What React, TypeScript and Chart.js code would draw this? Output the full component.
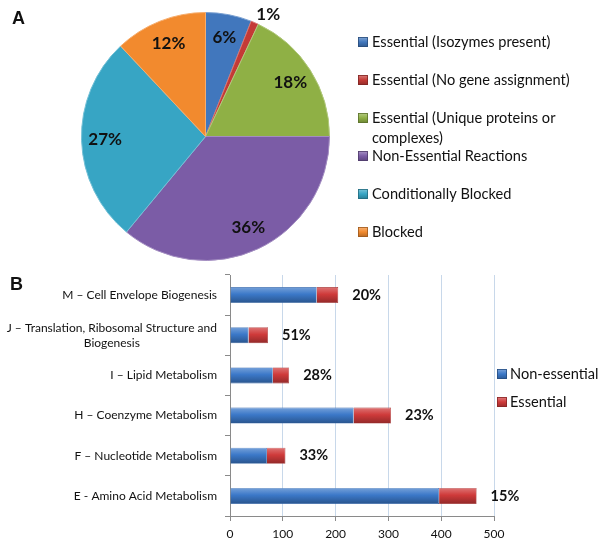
import React, { useEffect, useRef } from 'react';
import { Chart, registerables } from 'chart.js';

Chart.register(...registerables);

// ---------- Panel A data ----------
const pieLegendLines: string[][] = [
  ['Essential (Isozymes present)'],
  ['Essential (No gene assignment)'],
  ['Essential (Unique proteins or', 'complexes)'],
  ['Non-Essential Reactions'],
  ['Conditionally Blocked'],
  ['Blocked'],
];
const pieValues = [6, 1, 18, 36, 27, 12];
const pieColors = ['#4177bd', '#c43a36', '#8fb045', '#7b5ca6', '#37a5c4', '#f28a2e'];

// ---------- Panel B data ----------
const barCategories: string[][] = [
  ['M \u2013 Cell Envelope Biogenesis'],
  ['J \u2013 Translation, Ribosomal Structure and', 'Biogenesis'],
  ['I \u2013 Lipid Metabolism'],
  ['H \u2013 Coenzyme Metabolism'],
  ['F \u2013 Nucleotide Metabolism'],
  ['E - Amino Acid Metabolism'],
];
const nonEssential = [164, 35, 81, 234, 70, 396];
const essential = [41, 37, 31, 71, 35, 71];
const percentLabels = ['20%', '51%', '28%', '23%', '33%', '15%'];
const seriesNames = ['Non-essential', 'Essential'];
const xTicks = [0, 100, 200, 300, 400, 500];

const FONT = 'Lato, "Open Sans", sans-serif';

function shade(hex: string, amt: number) {
  const n = parseInt(hex.slice(1), 16);
  let r = (n >> 16) & 255, g = (n >> 8) & 255, b = n & 255;
  const f = (c: number) => Math.max(0, Math.min(255, Math.round(amt >= 0 ? c + (255 - c) * amt : c * (1 + amt))));
  r = f(r); g = f(g); b = f(b);
  return `rgb(${r},${g},${b})`;
}

function drawSquare(ctx: CanvasRenderingContext2D, x: number, y: number, s: number, color: string) {
  const g = ctx.createLinearGradient(x, y, x, y + s);
  g.addColorStop(0, shade(color, 0.35));
  g.addColorStop(0.5, color);
  g.addColorStop(1, shade(color, -0.25));
  ctx.fillStyle = g;
  ctx.fillRect(x, y, s, s);
  ctx.strokeStyle = shade(color, -0.35);
  ctx.lineWidth = 0.8;
  ctx.strokeRect(x + 0.5, y + 0.5, s - 1, s - 1);
}

export default function App() {
  const pieRef = useRef<HTMLCanvasElement>(null);
  const barRef = useRef<HTMLCanvasElement>(null);

  useEffect(() => {
    Chart.defaults.font.family = FONT;

    const pieLabelPlugin = {
      id: 'pieLabels',
      afterDatasetsDraw(chart: any) {
        const ctx = chart.ctx as CanvasRenderingContext2D;
        const meta = chart.getDatasetMeta(0);
        ctx.save();
        ctx.font = `bold 17px ${FONT}`;
        ctx.fillStyle = '#111';
        meta.data.forEach((arc: any, i: number) => {
          const p = arc.getProps(['x', 'y', 'startAngle', 'endAngle', 'outerRadius'], true);
          const mid = (p.startAngle + p.endAngle) / 2;
          const text = pieValues[i] + '%';
          ctx.textBaseline = 'middle';
          if (pieValues[i] < 3) {
            const r = p.outerRadius + 4;
            ctx.textAlign = 'left';
            ctx.fillText(text, p.x + Math.cos(mid) * r, p.y + Math.sin(mid) * r - 5);
          } else {
            const r = p.outerRadius * 0.81;
            ctx.textAlign = 'center';
            ctx.fillText(text, p.x + Math.cos(mid) * r, p.y + Math.sin(mid) * r);
          }
        });
        ctx.restore();
      },
      afterDraw(chart: any) {
        const ctx = chart.ctx as CanvasRenderingContext2D;
        ctx.save();
        ctx.font = `14.6px ${FONT}`;
        ctx.textBaseline = 'middle';
        ctx.textAlign = 'left';
        pieLegendLines.forEach((lines, i) => {
          const y = 42 + i * 38;
          drawSquare(ctx, 358, y - 5, 10, pieColors[i]);
          ctx.fillStyle = '#111';
          lines.forEach((ln, j) => ctx.fillText(ln, 372, y + j * 20));
        });
        ctx.restore();
      },
    };

    const pieFill = (c: any) => {
      const color = pieColors[c.dataIndex];
      const el = c.element;
      if (!el || color === undefined) return color;
      const p = el.getProps(['x', 'y', 'outerRadius'], true);
      if (!Number.isFinite(p.x) || !Number.isFinite(p.outerRadius) || p.outerRadius <= 0) return color;
      const g = c.chart.ctx.createRadialGradient(p.x, p.y, 0, p.x, p.y, p.outerRadius);
      g.addColorStop(0, color);
      g.addColorStop(0.9, shade(color, -0.08));
      g.addColorStop(0.96, shade(color, 0.12));
      g.addColorStop(1, shade(color, -0.12));
      return g;
    };

    const pie = new Chart(pieRef.current!, {
      type: 'pie',
      data: {
        labels: pieLegendLines.map((l) => l.join(' ')),
        datasets: [
          {
            data: pieValues,
            backgroundColor: pieFill,
            borderColor: pieColors.map((c) => shade(c, 0.3)),
            borderWidth: 1,
            hoverOffset: 0,
          },
        ],
      },
      options: {
        responsive: false,
        animation: false,
        devicePixelRatio: 1,
        layout: { padding: { left: 81, right: 270, top: 12, bottom: 1 } },
        plugins: { legend: { display: false }, tooltip: { enabled: false } },
      },
      plugins: [pieLabelPlugin],
    });

    const barGradient = (color: string) => (c: any) => {
      const chart = c.chart;
      const ys = chart.scales && chart.scales.y;
      if (!ys || c.dataIndex === undefined) return color;
      const yc = ys.getPixelForValue(c.dataIndex);
      if (!Number.isFinite(yc)) return color;
      const g = chart.ctx.createLinearGradient(0, yc - 8, 0, yc + 8);
      g.addColorStop(0, shade(color, 0.3));
      g.addColorStop(0.45, color);
      g.addColorStop(1, shade(color, -0.3));
      return g;
    };

    const barPlugin = {
      id: 'barExtras',
      afterDatasetsDraw(chart: any) {
        const ctx = chart.ctx as CanvasRenderingContext2D;
        const xs = chart.scales.x;
        const ys = chart.scales.y;
        ctx.save();
        ctx.font = `bold 14.5px ${FONT}`;
        ctx.fillStyle = '#111';
        ctx.textAlign = 'left';
        ctx.textBaseline = 'middle';
        percentLabels.forEach((t, i) => {
          const x = xs.getPixelForValue(nonEssential[i] + essential[i]) + 14;
          ctx.fillText(t, x, ys.getPixelForValue(i));
        });
        ctx.restore();
      },
      afterDraw(chart: any) {
        const ctx = chart.ctx as CanvasRenderingContext2D;
        const ys = chart.scales.y;
        ctx.save();
        ctx.font = `12px ${FONT}`;
        ctx.fillStyle = '#111';
        ctx.textAlign = 'center';
        ctx.textBaseline = 'middle';
        const right = ys.right - 13;
        barCategories.forEach((lines, i) => {
          const yc = ys.getPixelForValue(i);
          const w = Math.max(...lines.map((l) => ctx.measureText(l).width));
          const cx = right - w / 2;
          const lh = 15;
          const y0 = yc - ((lines.length - 1) * lh) / 2;
          lines.forEach((l, j) => ctx.fillText(l, cx, y0 + j * lh));
        });
        // legend
        ctx.font = `14.6px ${FONT}`;
        ctx.textAlign = 'left';
        const cols = ['#3b78c8', '#cf3a3a'];
        seriesNames.forEach((n, i) => {
          const y = 112 + i * 28;
          drawSquare(ctx, 497, y - 5, 10, cols[i]);
          ctx.fillStyle = '#111';
          ctx.fillText(n, 510, y);
        });
        ctx.restore();
      },
    };

    const bar = new Chart(barRef.current!, {
      type: 'bar',
      data: {
        labels: barCategories.map((l) => l.join(' ')),
        datasets: [
          {
            label: seriesNames[0],
            data: nonEssential,
            backgroundColor: barGradient('#3b78c8'),
            borderColor: '#2f62a6',
            borderWidth: 0.6,
            barPercentage: 0.4,
            categoryPercentage: 1,
          },
          {
            label: seriesNames[1],
            data: essential,
            backgroundColor: barGradient('#cf3a3a'),
            borderColor: '#9c2a2a',
            borderWidth: 0.6,
            barPercentage: 0.4,
            categoryPercentage: 1,
          },
        ],
      },
      options: {
        indexAxis: 'y',
        responsive: false,
        animation: false,
        devicePixelRatio: 1,
        layout: { padding: { left: 0, right: 106, top: 13, bottom: 0 } },
        plugins: { legend: { display: false }, tooltip: { enabled: false } },
        scales: {
          x: {
            stacked: true,
            min: 0,
            max: 500,
            afterFit: (s: any) => { s.height = 27; },
            afterBuildTicks: (s: any) => { s.ticks = xTicks.map((v) => ({ value: v })); },
            ticks: { font: { size: 12 }, color: '#111', padding: 6 },
            grid: { color: '#c8d8ea', tickColor: '#8a8a8a', tickLength: 5, lineWidth: 1 },
            border: { color: '#8a8a8a' },
          },
          y: {
            stacked: true,
            afterFit: (s: any) => { s.width = 230; },
            ticks: { display: false },
            grid: { drawOnChartArea: false, tickColor: '#8a8a8a', tickLength: 5, offset: true },
            border: { color: '#8a8a8a' },
          },
        },
      },
      plugins: [barPlugin],
    });

    return () => {
      pie.destroy();
      bar.destroy();
    };
  }, []);

  const letter: React.CSSProperties = {
    position: 'absolute',
    fontFamily: '"Liberation Sans", Arial, sans-serif',
    fontWeight: 'bold',
    fontSize: 18,
    color: '#111',
    lineHeight: '20px',
  };

  return (
    <div style={{ position: 'absolute', left: 0, top: 0, width: 600, height: 543, background: '#fff' }}>
      <canvas ref={pieRef} width={600} height={262} style={{ position: 'absolute', left: 0, top: 0 }} />
      <canvas ref={barRef} width={600} height={281} style={{ position: 'absolute', left: 0, top: 262 }} />
      <div style={{ ...letter, left: 12, top: 8 }}>A</div>
      <div style={{ ...letter, left: 10, top: 274 }}>B</div>
    </div>
  );
}
